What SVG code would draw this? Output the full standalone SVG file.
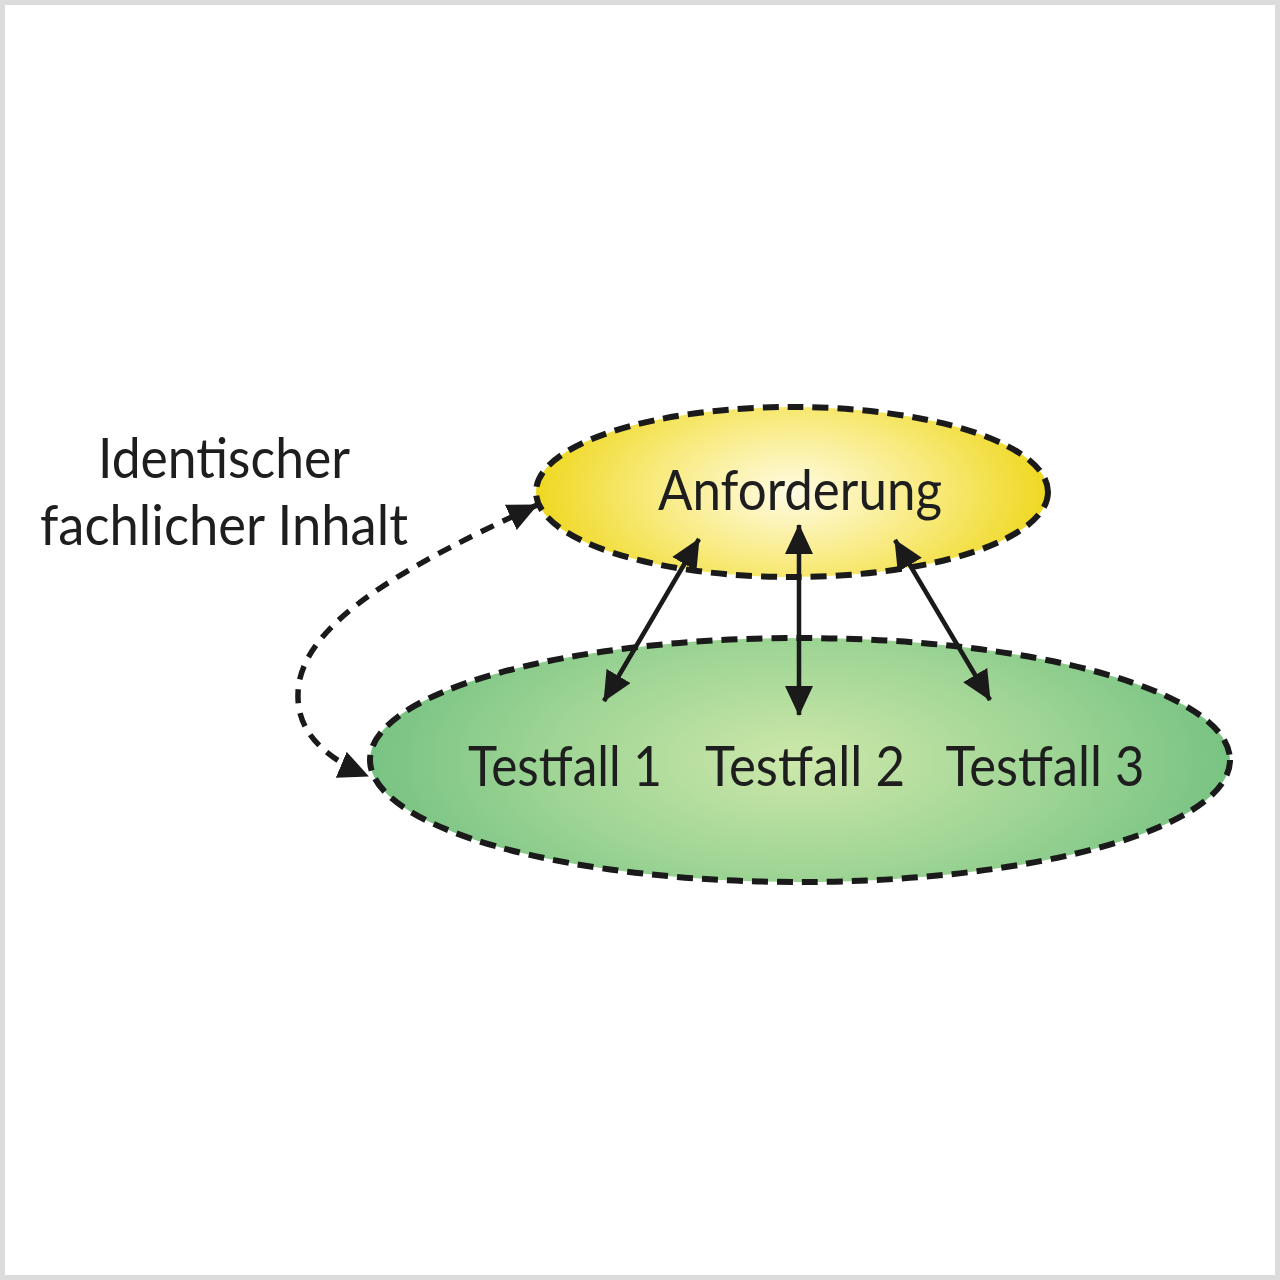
<svg xmlns="http://www.w3.org/2000/svg" width="1280" height="1280" viewBox="0 0 1280 1280">
<style>
.lbl{font-family:Lato,"Open Sans","DejaVu Sans",sans-serif;fill:#1e1e1e;font-size:56px}
.el{stroke:#1a1a1a;stroke-width:6;stroke-dasharray:16 9}
.solid{stroke:#1a1a1a;stroke-width:4.5;fill:none}
.dash{stroke:#1a1a1a;stroke-width:5.5;fill:none;stroke-dasharray:14 10}
</style>
<defs>
<radialGradient id="gy" cx="0.5" cy="0.5" r="0.5" gradientTransform="translate(0.5 0.5) scale(1 1.6) translate(-0.5 -0.5)">
<stop offset="0" stop-color="#fffbe3"/>
<stop offset="0.55" stop-color="#f8ea7c"/>
<stop offset="1" stop-color="#efd821"/>
</radialGradient>
<radialGradient id="gg" cx="0.5" cy="0.5" r="0.5" gradientTransform="translate(0.5 0.5) scale(1 1.6) translate(-0.5 -0.5)">
<stop offset="0" stop-color="#cde8aa"/>
<stop offset="0.6" stop-color="#9dd494"/>
<stop offset="1" stop-color="#78c383"/>
</radialGradient>
<marker id="ah" viewBox="0 0 30 28" refX="29" refY="14" markerWidth="30" markerHeight="28" markerUnits="userSpaceOnUse" orient="auto-start-reverse">
<path d="M0,0 L30,14 L0,28 Z" fill="#1a1a1a"/>
</marker>
</defs>
<rect x="2.5" y="2.5" width="1275" height="1275" fill="#ffffff" stroke="#dcdcdc" stroke-width="5"/>
<g id="node-testfaelle">
<ellipse class="el" cx="800" cy="760" rx="430" ry="122" fill="url(#gg)"/>
<text class="lbl" x="565" y="786" text-anchor="middle" textLength="194" lengthAdjust="spacingAndGlyphs">Testfall 1</text>
<text class="lbl" x="805" y="786" text-anchor="middle" textLength="200" lengthAdjust="spacingAndGlyphs">Testfall 2</text>
<text class="lbl" x="1045" y="786" text-anchor="middle" textLength="199" lengthAdjust="spacingAndGlyphs">Testfall 3</text>
</g>
<g id="node-anforderung">
<ellipse class="el" cx="792" cy="492" rx="256" ry="85" fill="url(#gy)"/>
<text class="lbl" x="800" y="510" text-anchor="middle" textLength="284" lengthAdjust="spacingAndGlyphs">Anforderung</text>
</g>
<g id="label-inhalt">
<text class="lbl" x="224" y="478" text-anchor="middle" textLength="252" lengthAdjust="spacingAndGlyphs">Identischer</text>
<text class="lbl" x="224" y="545" text-anchor="middle" textLength="368" lengthAdjust="spacingAndGlyphs">fachlicher Inhalt</text>
</g>
<g id="connectors">
<line class="solid" x1="699" y1="539" x2="604" y2="701" marker-start="url(#ah)" marker-end="url(#ah)"/>
<line class="solid" x1="799" y1="525" x2="799" y2="715" marker-start="url(#ah)" marker-end="url(#ah)"/>
<line class="solid" x1="895" y1="540" x2="990" y2="700" marker-start="url(#ah)" marker-end="url(#ah)"/>
<path class="dash" d="M537,505 C420,560 298,620 298,695 C297,735 330,760 368,776" marker-start="url(#ah)" marker-end="url(#ah)"/>
</g>
</svg>
